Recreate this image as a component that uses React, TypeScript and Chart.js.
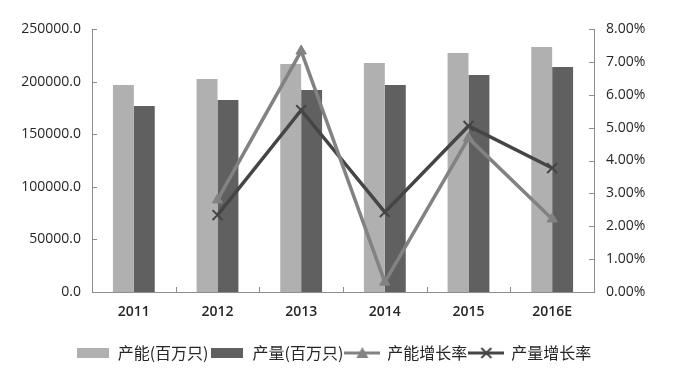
import React, { useEffect, useRef } from 'react';
import { Chart, registerables } from 'chart.js';

Chart.register(...registerables);

const categories = ['2011', '2012', '2013', '2014', '2015', '2016E'];
const capacity = [196800, 202500, 216700, 217700, 227200, 232900];
const output = [176800, 182500, 192000, 196800, 206300, 213900];
const capacityGrowth = [null, 2.8, 7.33, 0.3, 4.68, 2.22];
const outputGrowth = [null, 2.34, 5.53, 2.43, 5.05, 3.77];
const seriesNames = ['产能(百万只)', '产量(百万只)', '产能增长率', '产量增长率'];
const leftMax = 250000;
const leftStep = 50000;
const rightMax = 8;
const rightStep = 1;

const LIGHT = '#b0b0b0';
const DARK = '#606060';
const LINE1 = '#828282';
const LINE2 = '#454545';
const AXIS = '#8c8c8c';
const TEXT = '#262626';

function makeBox(color: string) {
  const c = document.createElement('canvas');
  c.width = 32;
  c.height = 10;
  const ctx = c.getContext('2d')!;
  ctx.fillStyle = color;
  ctx.fillRect(0, 0, 32, 10);
  return c;
}

function makeLine(color: string, marker: 'triangle' | 'cross') {
  const c = document.createElement('canvas');
  c.width = 36;
  c.height = 14;
  const ctx = c.getContext('2d')!;
  ctx.strokeStyle = color;
  ctx.fillStyle = color;
  ctx.lineWidth = 3;
  ctx.beginPath();
  ctx.moveTo(0, 7);
  ctx.lineTo(36, 7);
  ctx.stroke();
  if (marker === 'triangle') {
    ctx.beginPath();
    ctx.moveTo(18, 1);
    ctx.lineTo(24, 12);
    ctx.lineTo(12, 12);
    ctx.closePath();
    ctx.fill();
  } else {
    ctx.lineWidth = 2;
    ctx.beginPath();
    ctx.moveTo(13, 2);
    ctx.lineTo(23, 12);
    ctx.moveTo(23, 2);
    ctx.lineTo(13, 12);
    ctx.stroke();
  }
  return c;
}

const tickMarks = {
  id: 'tickMarks',
  afterDraw(chart: any) {
    const ctx = chart.ctx;
    const { left, right, bottom } = chart.chartArea;
    const yl = chart.scales.y;
    const yr = chart.scales.y1;
    const x = chart.scales.x;
    ctx.save();
    ctx.strokeStyle = AXIS;
    ctx.lineWidth = 1;
    ctx.beginPath();
    for (let v = 0; v <= leftMax; v += leftStep) {
      const py = Math.round(yl.getPixelForValue(v)) + 0.5;
      ctx.moveTo(left, py);
      ctx.lineTo(left + 5, py);
    }
    for (let v = 0; v <= rightMax; v += rightStep) {
      const py = Math.round(yr.getPixelForValue(v)) + 0.5;
      ctx.moveTo(right - 5, py);
      ctx.lineTo(right, py);
    }
    for (let i = 0; i < categories.length - 1; i++) {
      const px = Math.round((x.getPixelForValue(i) + x.getPixelForValue(i + 1)) / 2) + 0.5;
      ctx.moveTo(px, bottom);
      ctx.lineTo(px, bottom - 5);
    }
    ctx.stroke();
    ctx.restore();
  },
};

export default function App() {
  const ref = useRef<HTMLCanvasElement>(null);

  useEffect(() => {
    document.body.style.margin = '0';
    const styles = [makeBox(LIGHT), makeBox(DARK), makeLine(LINE1, 'triangle'), makeLine(LINE2, 'cross')];
    const chart = new Chart(ref.current!, {
      type: 'bar',
      data: {
        labels: categories,
        datasets: [
          { type: 'bar', label: seriesNames[0], data: capacity, backgroundColor: LIGHT, yAxisID: 'y', order: 2, categoryPercentage: 0.5, barPercentage: 1.0 },
          { type: 'bar', label: seriesNames[1], data: output, backgroundColor: DARK, yAxisID: 'y', order: 2, categoryPercentage: 0.5, barPercentage: 1.0 },
          { type: 'line', label: seriesNames[2], data: capacityGrowth as any, borderColor: LINE1, backgroundColor: LINE1, borderWidth: 3.5, pointStyle: 'triangle', pointRadius: 6, pointBorderWidth: 1, yAxisID: 'y1', order: 1, tension: 0 },
          { type: 'line', label: seriesNames[3], data: outputGrowth as any, borderColor: LINE2, backgroundColor: LINE2, borderWidth: 3.5, pointStyle: 'crossRot', pointRadius: 7, pointBorderWidth: 2, yAxisID: 'y1', order: 1, tension: 0 },
        ] as any,
      },
      options: {
        responsive: false,
        animation: false,
        layout: { padding: { top: 29, left: 0, right: 13, bottom: 10 } },
        plugins: {
          tooltip: { enabled: false },
          legend: {
            position: 'bottom',
            labels: {
              usePointStyle: true,
              pointStyleWidth: 34,
              padding: 2,
              color: TEXT,
              font: { family: '"Noto Sans CJK SC", "Noto Sans", sans-serif', size: 16 },
              generateLabels: (chart: any) =>
                chart.data.datasets.map((ds: any, i: number) => ({
                  text: ds.label,
                  pointStyle: styles[i],
                  fillStyle: 'transparent',
                  strokeStyle: 'transparent',
                  lineWidth: 0,
                  fontColor: TEXT,
                  hidden: false,
                  datasetIndex: i,
                })),
            },
          },
        },
        scales: {
          x: {
            grid: { display: false, drawTicks: false },
            border: { display: true, color: AXIS },
            ticks: { color: TEXT, padding: 12, font: { family: '"Open Sans", sans-serif', size: 14, weight: '600' } },
            afterFit: (s: any) => { s.height = 51; },
          },
          y: {
            position: 'left',
            min: 0,
            max: leftMax,
            grid: { display: false, drawTicks: false },
            border: { display: true, color: AXIS },
            ticks: {
              stepSize: leftStep,
              padding: 11,
              color: TEXT,
              font: { family: '"Open Sans", sans-serif', size: 14 },
              callback: (v: any) => Number(v).toFixed(1),
            },
            afterFit: (s: any) => { s.width = 92; },
          },
          y1: {
            position: 'right',
            min: 0,
            max: rightMax,
            grid: { display: false, drawTicks: false },
            border: { display: true, color: AXIS },
            ticks: {
              stepSize: rightStep,
              padding: 12,
              color: TEXT,
              font: { family: '"Open Sans", sans-serif', size: 14 },
              callback: (v: any) => Number(v).toFixed(2) + '%',
            },
            afterFit: (s: any) => { s.width = 73; },
          },
        },
      } as any,
      plugins: [tickMarks],
    });
    return () => chart.destroy();
  }, []);

  return (
    <div style={{ width: 680, height: 381, background: '#fff' }}>
      <canvas ref={ref} width={680} height={381} />
    </div>
  );
}
